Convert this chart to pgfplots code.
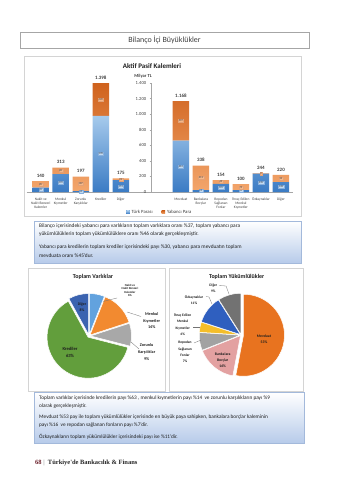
\documentclass[border=0pt]{standalone}
\usepackage{fontspec}
\setmainfont{Carlito}
\newfontfamily\serifbf{Liberation Serif}
\usepackage{pgfplots}
\pgfplotsset{compat=1.18}
\definecolor{tlA}{HTML}{A6CAEC}
\definecolor{tlB}{HTML}{3A7BC4}
\definecolor{fxA}{HTML}{CF621D}
\definecolor{fxB}{HTML}{F3A66C}
\definecolor{txt}{HTML}{1E1E1E}
\definecolor{gtxt}{HTML}{404040}
\definecolor{boxline}{HTML}{D4D4D4}
\definecolor{bluebox}{HTML}{B7CBEA}
\definecolor{blueline}{HTML}{A3B9DB}
\definecolor{cNakit}{HTML}{62A2DE}
\definecolor{cMenkul}{HTML}{F28A30}
\definecolor{cZor}{HTML}{A8A8A8}
\definecolor{cKredi}{HTML}{629E3C}
\definecolor{cDigerL}{HTML}{3B63B0}
\definecolor{cMevduat}{HTML}{E8731F}
\definecolor{cBank}{HTML}{E3A1A1}
\definecolor{cRepo}{HTML}{A2A2A2}
\definecolor{cIhrac}{HTML}{F4BE2A}
\definecolor{cOzk}{HTML}{2F5FBF}
\definecolor{cDigerR}{HTML}{727272}
\newcommand\fsz[2]{\fontsize{#1}{#2}\selectfont}
\newcommand\pie[4]{%
  \xdef\angA{90}%
  \foreach \p/\c/\ex in {#4}{%
    \pgfmathsetmacro\angB{\angA-3.6*\p}%
    \pgfmathsetmacro\angM{(\angA+\angB)/2}%
    \fill[fill=\c, draw=white, line width=0.5bp, shift={(#1,#2)}, shift={(\angM:\ex bp)}]
      (0,0) -- (\angA:#3 bp) arc[start angle=\angA, end angle=\angB, radius=#3 bp] -- cycle;%
    \xdef\angA{\angB}%
  }%
}
\pgfplotsset{barax/.style={at={(26.7bp,-192bp)}, anchor=south west, scale only axis,
  width=266.3bp, height=109bp, xmin=-6.2, xmax=7.1, ymin=0, ymax=1400}}
\begin{document}
\begin{tikzpicture}[x=1bp,y=1bp]
\path[use as bounding box] (0,0) rectangle (339,-480);
\fill[white] (0,0) rectangle (339,-480);
% header
\draw[gray!70, line width=0.7bp] (20,-32) rectangle (309,-48);
\node[text=gtxt, font=\fsz{8}{9}] at (164.5,-40) {Bilanço İçi Büyüklükler};
% chart panel
\draw[boxline, line width=0.5bp] (24,-56) rectangle (301,-216);
\node[font=\bfseries\fsz{7}{8}, text=txt] at (152,-65.7) {Aktif Pasif Kalemleri};
\node[font=\bfseries\fsz{4.6}{5}, text=gtxt] at (143,-76.5) {Milyar TL};

\begin{axis}[barax, ybar stacked, bar width=16.5bp,
  axis x line=bottom, axis y line=none, axis line style={-, draw=black!35, line width=0.4bp},
  ymajorgrids, grid style={draw=black!15, line width=0.35bp},
  ytick={0,200,...,1400},
  xtick={-5.5,-4.5,-3.5,-2.5,-1.5,1.5,2.5,3.5,4.5,5.5,6.5},
  xticklabels={{Nakit ve\\Nakit Benzeri\\Kalemler},{Menkul\\Kıymetler},{Zorunlu\\Karşılıklar},Krediler,Diğer,Mevduat,{Bankalara\\Borçlar},{Repodan\\Sağlanan\\Fonlar},{İhraç Edilen\\Menkul\\Kıymetler},Özkaynaklar,Diğer},
  x tick label style={align=center, font=\fsz{3.6}{4}, text=gtxt},
  x tick style={draw=none},
  legend columns=2,
  legend style={draw=none, fill=none, at={(0.5,-0.185)}, anchor=center, font=\fsz{4.8}{5}, text=gtxt,
    /tikz/every even column/.append style={column sep=7bp}},
]
\addplot[top color=tlA, bottom color=tlB, draw=none,
  legend image code/.code={\fill[tlB] (0bp,-1.7bp) rectangle (3.4bp,1.7bp);}]
  coordinates {(-5.5,55) (-4.5,231) (-3.5,10) (-2.5,978) (-1.5,151) (1.5,661) (2.5,25) (3.5,105) (4.5,25) (5.5,235) (6.5,128)};
\addlegendentry{Türk Parası}
\addplot[top color=fxA, bottom color=fxB, draw=none,
  legend image code/.code={\fill[fxA] (0bp,-1.7bp) rectangle (3.4bp,1.7bp);}]
  coordinates {(-5.5,85) (-4.5,82) (-3.5,187) (-2.5,420) (-1.5,24) (1.5,507) (2.5,313) (3.5,49) (4.5,75) (5.5,9) (6.5,92)};
\addlegendentry{Yabancı Para}
\end{axis}

% y axis placed between the two groups
\begin{axis}[at={(150.7bp,-192bp)}, anchor=south west, scale only axis, width=10bp, height=109bp,
  xmin=0, xmax=1, ymin=0, ymax=1400, axis y line=left, axis x line=none,
  axis line style={-, draw=black!35, line width=0.4bp},
  ytick={0,200,...,1400}, xtick=\empty,
  /pgf/number format/1000 sep={.}, /pgf/number format/assume math mode=true,
  yticklabel style={font=\fsz{4.6}{5}, text=gtxt},
  y tick style={draw=black!35, line width=0.4bp}, major tick length=2bp]
\end{axis}

\begin{axis}[barax, hide axis]
\addplot[draw=none, nodes near coords, point meta=explicit symbolic,
  every node near coord/.append style={font=\fsz{2.8}{3}, text=gtxt, fill=tlA!70, draw=tlB!60, line width=0.2bp, inner sep=0.6bp, anchor=center}]
  coordinates {(-5.5,27)[55] (-4.5,115)[231] (-3.5,5)[10] (-2.5,489)[978] (-1.5,75)[151] (1.5,330)[661] (2.5,12)[25] (3.5,52)[105] (4.5,12)[25] (5.5,117)[235] (6.5,64)[128]};
\addplot[draw=none, nodes near coords, point meta=explicit symbolic,
  every node near coord/.append style={font=\fsz{2.8}{3}, text=gtxt, fill=fxB!80, draw=fxA!60, line width=0.2bp, inner sep=0.6bp, anchor=center}]
  coordinates {(-5.5,97)[85] (-4.5,272)[82] (-3.5,103)[187] (-2.5,1188)[420] (-1.5,163)[24] (1.5,914)[507] (2.5,181)[313] (3.5,129)[49] (4.5,62)[75] (5.5,239)[9] (6.5,174)[92]};
\addplot[draw=none, nodes near coords, point meta=explicit symbolic,
  every node near coord/.append style={font=\bfseries\fsz{5}{5}, text=gtxt, anchor=south, inner sep=0pt, yshift=3.5bp}]
  coordinates {(-5.5,140)[140] (-4.5,313)[313] (-3.5,197)[197] (-2.5,1398)[1.398] (-1.5,175)[175] (1.5,1168)[1.168] (2.5,338)[338] (3.5,154)[154] (4.5,100)[100] (5.5,244)[244] (6.5,220)[220]};
\end{axis}

% text box 1
\shade[top color=white, bottom color=bluebox] (34,-221) rectangle (301,-263);
\draw[blueline, line width=0.4bp] (34,-221) rectangle (301,-263);
\begin{scope}[every node/.style={anchor=west, inner sep=0, text=txt, font=\fsz{5.4}{6}}]
\node at (39,-226) {Bilanço içerisindeki yabancı para varlıkların toplam varlıklara oranı \%37, toplam yabancı para};
\node at (39,-234) {yükümlülüklerin toplam yükümlülüklere oranı \%46 olarak gerçekleşmiştir.};
\node at (39,-247.3) {Yabancı para kredilerin toplam krediler içerisindeki payı \%30, yabancı para mevduatın toplam};
\node at (39,-255.7) {mevduata oranı \%45'dur.};
\end{scope}

% pie panels
\draw[boxline, line width=0.5bp] (28.3,-268.3) rectangle (165.7,-391.7);
\draw[boxline, line width=0.5bp] (169,-268.3) rectangle (303.7,-391.7);
\node[font=\bfseries\fsz{6}{7}, text=txt] at (93,-276.7) {Toplam Varlıklar};
\node[font=\bfseries\fsz{6}{7}, text=txt] at (236.7,-277) {Toplam Yükümlülükler};

\pie{89}{-336}{41}{6/cNakit/1.5, 14/cMenkul/1.5, 9/cZor/1.5, 63/cKredi/1.5, 8/cDigerL/1.5}
\pie{241}{-335}{41}{53/cMevduat/2.5, 16/cBank/0.8, 7/cRepo/0.8, 4/cIhrac/0.8, 11/cOzk/0.8, 9/cDigerR/0.8}

\begin{scope}[every node/.style={align=center, inner sep=0, text=txt}]
\node[font=\bfseries\fsz{3}{3.6}] at (130,-290.5) {Nakit ve\\Nakit Benzeri\\Kalemler\\6\%};
\node[font=\bfseries\fsz{4.2}{6.5}] at (151.7,-321) {Menkul\\Kıymetler\\14\%};
\node[font=\bfseries\fsz{4.2}{7}] at (146.7,-352.3) {Zorunlu\\Karşılıklar\\9\%};
\node[font=\bfseries\fsz{4.6}{7}] at (70,-352) {Krediler\\63\%};
\node[font=\bfseries\fsz{3.8}{6}] at (82,-307) {Diğer\\8\%};
\node[font=\bfseries\fsz{3.6}{6}] at (213.3,-288) {Diğer\\9\%};
\node[font=\bfseries\fsz{3.6}{6}] at (194,-299.7) {Özkaynaklar\\11\%};
\node[font=\bfseries\fsz{3.6}{6.2}] at (182.7,-324.5) {İhraç Edilen\\Menkul\\Kıymetler\\4\%};
\node[font=\bfseries\fsz{3.6}{6.4}] at (185,-352) {Repodan\\Sağlanan\\Fonlar\\7\%};
\node[font=\bfseries\fsz{3.8}{6}] at (222.7,-360) {Bankalara\\Borçlar\\16\%};
\node[font=\bfseries\fsz{3.8}{6.6}] at (264,-339) {Mevduat\\53\%};
\end{scope}
\begin{scope}[draw=black!55, line width=0.3bp]
\draw (103,-301.5) -- (117,-298);
\draw (127,-312) -- (141,-316.5);
\draw (131,-342) -- (139,-349);
\draw (219,-285.5) -- (226,-286) -- (229,-294);
\draw (206,-296.5) -- (209,-297) -- (212,-304);
\draw (193,-327) -- (200,-327);
\draw (194,-343) -- (201,-340);
\end{scope}

% text box 2
\shade[top color=white, bottom color=bluebox] (34,-392.5) rectangle (304,-443);
\draw[blueline, line width=0.4bp] (34,-392.5) rectangle (304,-443);
\begin{scope}[every node/.style={anchor=west, inner sep=0, text=txt, font=\fsz{5.3}{6}}]
\node at (39,-397.7) {Toplam varlıklar içerisinde kredilerin payı \%63 , menkul kıymetlerin payı \%14\ \ ve zorunlu karşılıkların payı \%9};
\node at (39,-405.7) {olarak gerçekleşmiştir.};
\node at (39,-416.7) {Mevduat \%53 pay ile toplam yükümlülükler içerisinde en büyük paya sahipken, bankalara borçlar kaleminin};
\node at (39,-425) {payı \%16\ \ ve repodan sağlanan fonların payı \%7'dir.};
\node at (39,-437.3) {Özkaynakların toplam yükümlülükler içerisindeki payı ise \%11'dir.};
\end{scope}

% footer
\node[anchor=west, inner sep=0, font=\serifbf\bfseries\fsz{6.5}{7}, text=black!85] at (35,-463)
  {\textcolor[HTML]{6B1F2A}{68}\ \textcolor{black!40}{|}\ \ Türkiye'de Bankacılık \& Finans};
\end{tikzpicture}
\end{document}
